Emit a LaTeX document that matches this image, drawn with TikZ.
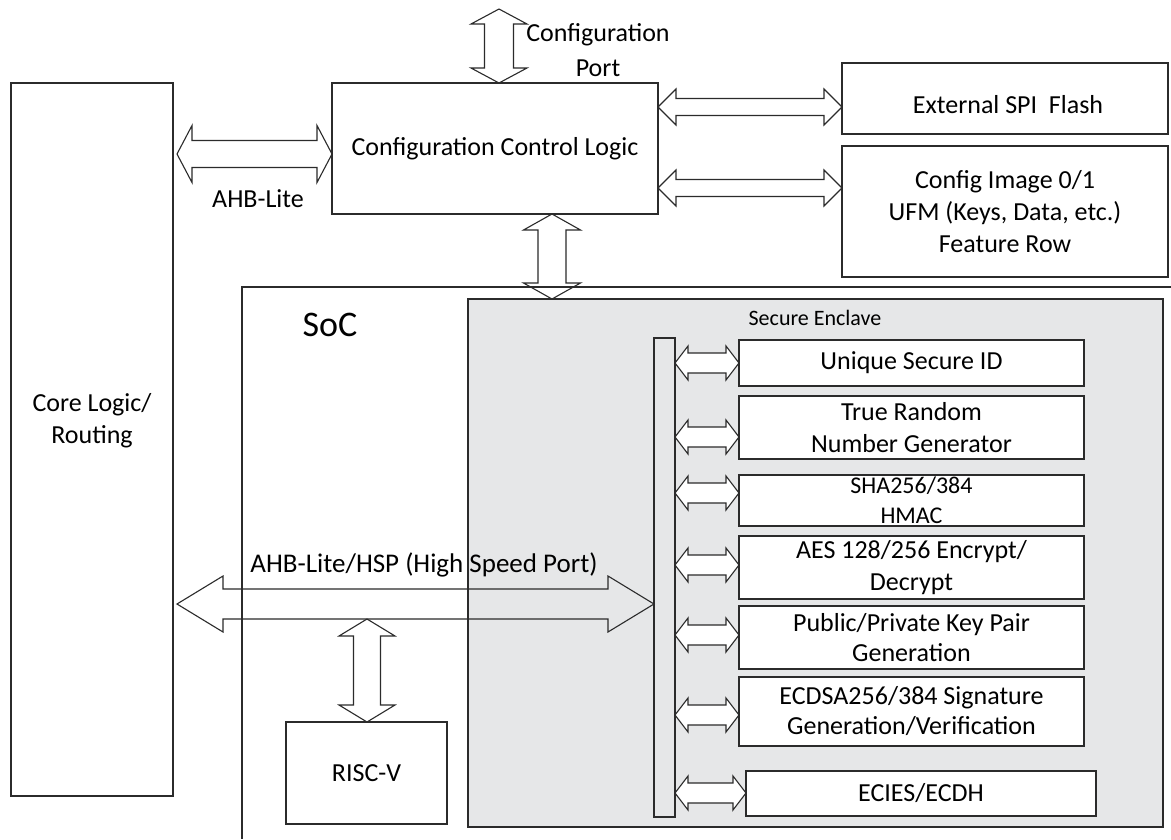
\documentclass[tikz,border=0pt]{standalone}
\usepackage{fontspec}
\setmainfont{Carlito}
\usetikzlibrary{calc}
\definecolor{ln}{HTML}{2B2B2B}
\definecolor{enclfill}{HTML}{E6E7E8}
\tikzset{
  box/.style={draw=ln, line width=1.2pt, rectangle, inner sep=0pt, outer sep=0pt, fill=white,
              anchor=north west, align=center, font=\fontsize{26}{32}\selectfont},
  txt/.style={inner sep=0pt, align=center, font=\fontsize{26}{32}\selectfont, text=black},
  blk/.style={draw=ln, line width=1.1pt, line join=miter},
}
% horizontal block double arrow: [opts]{left tip}{right tip}{head half}{shaft half}{head length}
\newcommand{\hblk}[6][]{%
  \draw[blk,#1] let \p1=(#2), \p2=(#3) in
    (\x1,\y1) -- (\x1+#6pt,\y1+#4pt) -- (\x1+#6pt,\y1+#5pt) -- (\x2-#6pt,\y1+#5pt)
    -- (\x2-#6pt,\y1+#4pt) -- (\x2,\y1) -- (\x2-#6pt,\y1-#4pt) -- (\x2-#6pt,\y1-#5pt)
    -- (\x1+#6pt,\y1-#5pt) -- (\x1+#6pt,\y1-#4pt) -- cycle;}
% vertical block double arrow: [opts]{top tip}{bottom tip}{head half}{shaft half}{head length}
\newcommand{\vblk}[6][]{%
  \draw[blk,#1] let \p1=(#2), \p2=(#3) in
    (\x1,\y1) -- (\x1+#4pt,\y1-#6pt) -- (\x1+#5pt,\y1-#6pt) -- (\x1+#5pt,\y2+#6pt)
    -- (\x1+#4pt,\y2+#6pt) -- (\x1,\y2) -- (\x1-#4pt,\y2+#6pt) -- (\x1-#5pt,\y2+#6pt)
    -- (\x1-#5pt,\y1-#6pt) -- (\x1-#4pt,\y1-#6pt) -- cycle;}
\begin{document}
\begin{tikzpicture}[x=1pt,y=-1pt]
\useasboundingbox[fill=white] (0,0) rectangle (1171,839);

% SoC outline (top and left edges)
\coordinate (socTL) at (242,287);
\coordinate (socTR) at (1171,287);
\coordinate (socBL) at (242,839);
\draw[ln, line width=1.2pt] (socTR) -- (socTL) -- (socBL);
\node[txt, font=\fontsize{36}{40}\selectfont] (soc) at (330,325) {SoC};

% Secure enclave
\node[box, fill=enclfill, minimum width=695pt, minimum height=528pt] (encl) at (468,299) {};
\node[txt, font=\fontsize{22}{26}\selectfont] (encltxt) at (815,318) {Secure Enclave};

% Core logic
\node[box, minimum width=162pt, minimum height=713pt] (core) at (11,83) {};
\node[txt] (coretxt) at (92,421) {Core Logic/\\Routing};

% Configuration control logic
\node[box, minimum width=326pt, minimum height=131pt] (ccl) at (332,83) {Configuration Control Logic};

% External SPI flash and config image
\node[box, minimum width=326pt, minimum height=71pt] (spi) at (842,63) {};
\node[txt] (spitxt) at (1008,105) {External SPI\ \ Flash};
\node[box, minimum width=326pt, minimum height=131pt] (img) at (842,146) {Config Image 0/1\\UFM (Keys, Data, etc.)\\Feature Row};

% Bus bar in enclave
\node[box, fill=enclfill, minimum width=21pt, minimum height=479pt] (bus) at (654,338) {};

% Enclave modules
\node[box, minimum width=345pt, minimum height=46pt] (uid) at (739,340) {Unique Secure ID};
\node[box, minimum width=345pt, minimum height=63pt] (trng) at (739,396) {True Random\\Number Generator};
\node[box, minimum width=345pt, minimum height=51pt, font=\fontsize{24}{30}\selectfont] (sha) at (739,475) {SHA256/384\\HMAC};
\node[box, minimum width=345pt, minimum height=63pt] (aes) at (739,536) {AES 128/256 Encrypt/\\Decrypt};
\node[box, minimum width=345pt, minimum height=63pt, font=\fontsize{26}{30}\selectfont] (pub) at (739,606) {Public/Private Key Pair\\Generation};
\node[box, minimum width=345pt, minimum height=69pt, font=\fontsize{26}{30}\selectfont] (ecdsa) at (739,677) {ECDSA256/384 Signature\\Generation/Verification};
\node[box, minimum width=350pt, minimum height=45pt] (ecies) at (746,771) {ECIES/ECDH};

% RISC-V
\node[box, minimum width=161pt, minimum height=102pt] (risc) at (286,722) {RISC-V};

% Configuration port arrow
\coordinate (cpTop) at (499,9);
\vblk{cpTop}{ccl.north -| cpTop}{28}{14.5}{15}
\node[txt, font=\fontsize{26}{35}\selectfont] (cptxt) at (598,50) {Configuration\\Port};

% AHB-Lite arrow
\coordinate (ahbL) at (177,154);
\hblk{ahbL}{ccl.west |- ahbL}{28.5}{13.5}{15}
\node[txt] (ahbtxt) at (258,199) {AHB-Lite};

% Arrows to SPI flash and config image
\coordinate (ySpi) at (0,107);
\coordinate (yImg) at (0,188);
\hblk{ccl.east |- ySpi}{spi.west |- ySpi}{18}{8.5}{18}
\hblk{ccl.east |- yImg}{img.west |- yImg}{18}{8.5}{18}

% Configuration control logic to enclave
\coordinate (ceX) at (552,0);
\vblk{ccl.south -| ceX}{encl.north -| ceX}{28.5}{14}{16}

% HSP arrow
\coordinate (hspL) at (177,604);
\hblk{hspL}{bus.west |- hspL}{28}{15}{46}
\node[txt, font=\fontsize{27}{30}\selectfont] (hsptxt) at (424,565) {AHB-Lite/HSP (High Speed Port)};

% RISC-V arrow
\coordinate (rvTop) at (367,619);
\vblk{rvTop}{risc.north -| rvTop}{28}{13.5}{17}

% Module arrows
\coordinate (a1) at (0,363);
\coordinate (a2) at (0,437);
\coordinate (a3) at (0,493);
\coordinate (a4) at (0,565);
\coordinate (a5) at (0,635);
\coordinate (a6) at (0,715);
\coordinate (a7) at (0,793);
\hblk[fill=white]{bus.east |- a1}{uid.west |- a1}{17}{10}{13}
\hblk[fill=white]{bus.east |- a2}{trng.west |- a2}{17}{10}{13}
\hblk[fill=white]{bus.east |- a3}{sha.west |- a3}{17}{10}{13}
\hblk[fill=white]{bus.east |- a4}{aes.west |- a4}{17}{10}{13}
\hblk[fill=white]{bus.east |- a5}{pub.west |- a5}{17}{10}{13}
\hblk[fill=white]{bus.east |- a6}{ecdsa.west |- a6}{17}{10}{13}
\hblk[fill=white]{bus.east |- a7}{ecies.west |- a7}{17}{10}{13}
\end{tikzpicture}
\end{document}
